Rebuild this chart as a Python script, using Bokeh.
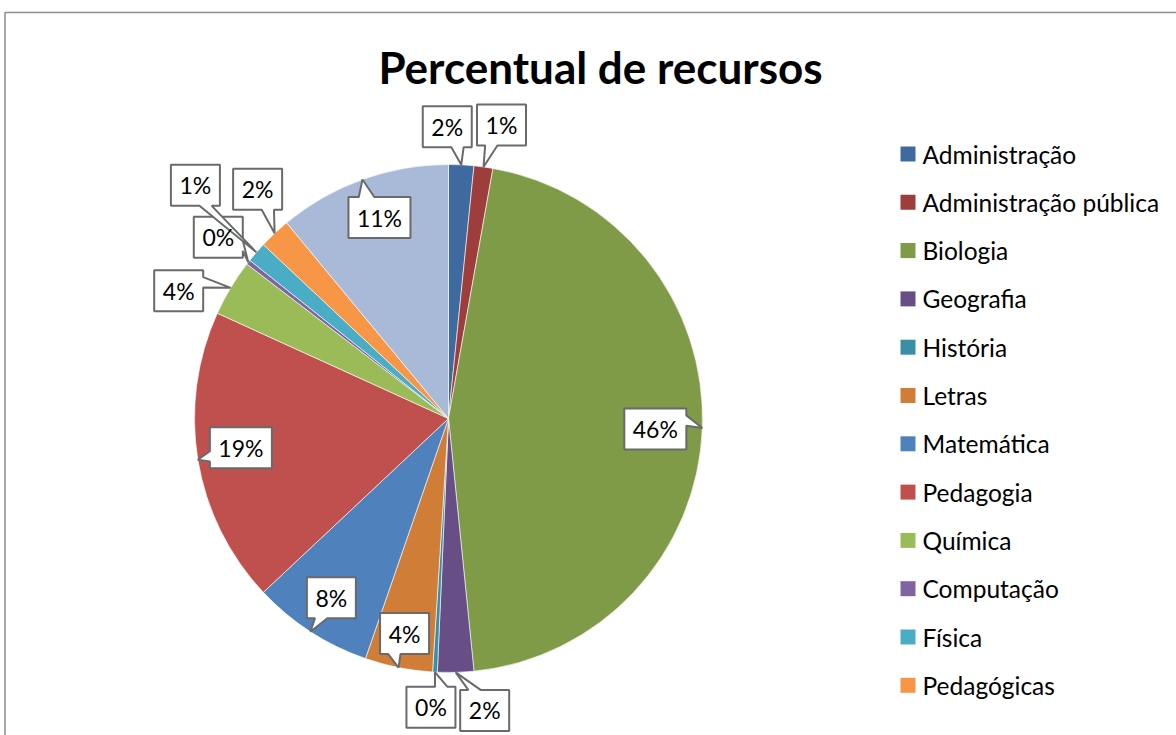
import math
from bokeh.plotting import figure
from bokeh.models import Range1d
from bokeh.core.properties import value
from bokeh.embed import file_html
from bokeh.resources import INLINE

# ---------------- data ----------------
title = "Percentual de recursos"
categories = ["Administração", "Administração pública", "Biologia", "Geografia",
              "História", "Letras", "Matemática", "Pedagogia", "Química",
              "Computação", "Física", "Pedagógicas", "Outros"]
shares = [1.6, 1.2, 45.6, 2.3, 0.3, 4.3, 7.7, 18.8, 3.6, 0.3, 1.3, 2.0, 11.0]
colors = ["#3E6AA0", "#9E3E3C", "#7F9B48", "#684E87", "#3A8FA6", "#D07D38",
          "#4F81BD", "#C0504D", "#9BBB59", "#8064A2", "#4BACC6", "#F79646",
          "#A9B9D8"]
legend_count = 12  # the reference legend shows the first 12 entries

# ---------------- layout ----------------
W, H = 1176, 735
MARGIN = 0


def dx_(sx):
    return sx - MARGIN


def dy_(sy):
    return H - (sy - MARGIN)


CX, CY, R = 448.0, 418.0, 254.0  # pie centre / radius (screen px)
# offsets (screen px) of each callout box centre from its pointer tip
label_offsets = [(-14, -38), (18, -42), (-47, 1), (29, 38), (-4, 35), (6, -34),
                 (21, -34), (43, -12), (-52, 3), (-30, -25), (-61, -67),
                 (-17, -44), (17, 38)]
BOX_H = 41
FONT = "Lato"

p = figure(width=W, height=H, output_backend="svg", toolbar_location=None,
           x_range=Range1d(0, W), y_range=Range1d(0, H), min_border=0,
           background_fill_color="white", border_fill_color="white")
p.xaxis.visible = False
p.yaxis.visible = False
p.grid.visible = False
p.outline_line_color = None

# chart border (left and top edges visible in the reference)
p.line(x=[dx_(4.5), dx_(4.5), dx_(1176)], y=[dy_(735), dy_(12), dy_(12)],
       line_color="#8C8C8C", line_width=1.5)

total = sum(shares)
cum = 0.0
starts, ends, mids = [], [], []
for s in shares:
    f0 = cum / total
    f1 = (cum + s) / total
    starts.append(math.pi / 2 - 2 * math.pi * f0)
    ends.append(math.pi / 2 - 2 * math.pi * f1)
    mids.append((f0 + f1) / 2)
    cum += s

p.wedge(x=[dx_(CX)] * len(shares), y=[dy_(CY)] * len(shares), radius=R,
        start_angle=starts, end_angle=ends, direction="clock",
        fill_color=colors, line_color="white", line_width=0.6)


def callout(cx, cy, w, h, tx, ty):
    l, r, t, b = cx - w / 2, cx + w / 2, cy - h / 2, cy + h / 2
    ddx, ddy = tx - cx, ty - cy
    if abs(ddy) * w > abs(ddx) * h:
        if ddx >= 0:
            b1, b2 = l + w * 7 / 12, l + w * 10 / 12
        else:
            b1, b2 = l + w * 2 / 12, l + w * 5 / 12
        if ddy > 0:
            pts = [(l, t), (r, t), (r, b), (b2, b), (tx, ty), (b1, b), (l, b)]
        else:
            pts = [(l, t), (b1, t), (tx, ty), (b2, t), (r, t), (r, b), (l, b)]
    else:
        if ddy >= 0:
            y1, y2 = t + h * 7 / 12, t + h * 10 / 12
        else:
            y1, y2 = t + h * 2 / 12, t + h * 5 / 12
        if ddx > 0:
            pts = [(l, t), (r, t), (r, y1), (tx, ty), (r, y2), (r, b), (l, b)]
        else:
            pts = [(l, t), (r, t), (r, b), (l, b), (l, y2), (tx, ty), (l, y1)]
    return [dx_(x) for x, _ in pts], [dy_(y) for _, y in pts]


xs, ys, lx, ly, labels = [], [], [], [], []
for i, s in enumerate(shares):
    ang = 2 * math.pi * mids[i]
    tx = CX + R * math.sin(ang)
    ty = CY - R * math.cos(ang)
    ox, oy = label_offsets[i]
    bx, by = tx + ox, ty + oy
    txt = f"{round(s / total * 100)}%"
    w = 49 if len(txt) <= 2 else 62
    px, py = callout(bx, by, w, BOX_H, tx, ty)
    xs.append(px)
    ys.append(py)
    lx.append(dx_(bx))
    ly.append(dy_(by))
    labels.append(txt)

p.patches(xs=xs, ys=ys, fill_color="white", line_color="#6A6A6A", line_width=2)
p.text(x=lx, y=ly, text=labels, text_font=value(FONT), text_font_size="23px",
       text_align="center", text_baseline="middle", text_color="black")

# title
p.text(x=[dx_(600)], y=[dy_(66)], text=[title], text_font=value(FONT),
       text_font_size="44px", text_font_style="bold", text_align="center",
       text_baseline="middle", text_color="black")

# legend
LEG_X, LEG_Y0, LEG_DY = 907.5, 153.5, 48.3
leg_x = [dx_(LEG_X)] * legend_count
leg_y = [dy_(LEG_Y0 + i * LEG_DY) for i in range(legend_count)]
p.scatter(x=leg_x, y=leg_y, marker="square", size=15,
          fill_color=colors[:legend_count], line_color=None)
p.text(x=[dx_(922)] * legend_count, y=leg_y, text=categories[:legend_count],
       text_font=value(FONT), text_font_size="24.5px", text_align="left",
       text_baseline="middle", text_color="black")

open("out.html", "w").write(file_html(p, INLINE))
